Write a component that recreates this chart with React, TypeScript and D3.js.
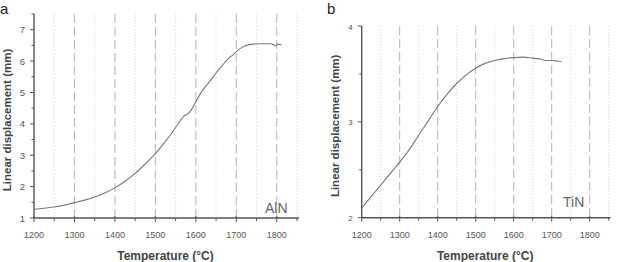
import React from 'react';
import * as d3 from 'd3';

// AlN run: temperature (°C) vs linear displacement (mm)
const alnTemp = [1200, 1225, 1250, 1275, 1300, 1325, 1350, 1375, 1400, 1425, 1450, 1475, 1500, 1520, 1540, 1555, 1565, 1572, 1580, 1588, 1600, 1612, 1622, 1635, 1650, 1665, 1680, 1692, 1700, 1712, 1725, 1740, 1755, 1770, 1785, 1792, 1797, 1803, 1812];
const alnDisp = [1.28, 1.31, 1.35, 1.41, 1.49, 1.57, 1.67, 1.80, 1.96, 2.17, 2.42, 2.72, 3.05, 3.36, 3.70, 3.98, 4.16, 4.26, 4.32, 4.43, 4.70, 4.98, 5.16, 5.36, 5.62, 5.85, 6.08, 6.20, 6.30, 6.42, 6.50, 6.54, 6.55, 6.55, 6.55, 6.53, 6.48, 6.54, 6.51];

// TiN run
const tinTemp = [1200, 1225, 1250, 1275, 1300, 1325, 1350, 1375, 1400, 1425, 1450, 1475, 1500, 1525, 1550, 1575, 1600, 1625, 1650, 1670, 1685, 1700, 1715, 1726];
const tinDisp = [2.1, 2.22, 2.34, 2.46, 2.58, 2.71, 2.86, 3.01, 3.16, 3.29, 3.4, 3.49, 3.56, 3.61, 3.64, 3.66, 3.67, 3.675, 3.665, 3.655, 3.64, 3.64, 3.635, 3.63];

const xMajor = [1200, 1300, 1400, 1500, 1600, 1700, 1800];
const xMinor = [1250, 1350, 1450, 1550, 1650, 1750, 1850];
const aTicks = [1, 2, 3, 4, 5, 6, 7];
const aMinor = [1.5, 2.5, 3.5, 4.5, 5.5, 6.5, 7.5];
const bTicks = [2, 3, 4];
const bMinor = [2.5, 3.5];

const FONT = '"Liberation Sans", Arial, sans-serif';
const AXIS = '#555';

interface PanelProps {
  letter: string;
  name: string;
  temps: number[];
  disp: number[];
  x0: number;
  x1: number;
  yTop: number;
  yBottom: number;
  yDomain: [number, number];
  yTicks: number[];
  yMinor: number[];
  yFont: number;
  letterX: number;
  titleX: number;
  nameX: number;
  nameY: number;
}

const Panel = (p: PanelProps) => {
  const x = d3.scaleLinear().domain([1200, 1855]).range([p.x0, p.x1]);
  const y = d3.scaleLinear().domain(p.yDomain).range([p.yBottom, p.yTop]);
  const pts = p.temps.map((t, i) => [t, p.disp[i]] as [number, number]);
  const line = d3
    .line<[number, number]>()
    .x((d) => x(d[0]))
    .y((d) => y(d[1]))
    .curve(d3.curveMonotoneX);
  const gridTop = y(p.yDomain[1]);
  const base = p.yBottom;

  return (
    <g>
      <text x={p.letterX} y={14} fontFamily={FONT} fontSize={15} fill="#222">{p.letter}</text>
      {xMinor.map((t) => (
        <line key={`mn${t}`} x1={x(t)} x2={x(t)} y1={gridTop} y2={base} stroke="#ccc" strokeWidth={0.8} strokeDasharray="1,2" />
      ))}
      {xMajor.slice(1).map((t) => (
        <line key={`mj${t}`} x1={x(t)} x2={x(t)} y1={gridTop} y2={base} stroke="#aaa" strokeWidth={0.9} strokeDasharray="9,4" />
      ))}
      <path d={line(pts) || ''} fill="none" stroke="#777" strokeWidth={1.1} />
      {/* axes */}
      <line x1={p.x0} x2={p.x0} y1={gridTop} y2={base} stroke={AXIS} strokeWidth={1.4} />
      <line x1={p.x0} x2={p.x1} y1={base} y2={base} stroke={AXIS} strokeWidth={1.4} />
      {xMajor.map((t) => (
        <g key={`xt${t}`}>
          <line x1={x(t)} x2={x(t)} y1={base - 2} y2={base + 4} stroke={AXIS} strokeWidth={1} />
          <text x={x(t)} y={base + 20} textAnchor="middle" fontFamily={FONT} fontSize={9} fill="#555">{t}</text>
        </g>
      ))}
      {xMinor.map((t) => (
        <line key={`xm${t}`} x1={x(t)} x2={x(t)} y1={base} y2={base + 3} stroke={AXIS} strokeWidth={1} />
      ))}
      {p.yTicks.map((v) => (
        <g key={`yt${v}`}>
          <line x1={p.x0 - 4} x2={p.x0} y1={y(v)} y2={y(v)} stroke={AXIS} strokeWidth={1} />
          <text x={p.x0 - 9} y={y(v) + 3.5} textAnchor="end" fontFamily={FONT} fontSize={p.yFont} fill="#555">{v}</text>
        </g>
      ))}
      {p.yMinor.map((v) => (
        <line key={`ym${v}`} x1={p.x0 - 2.5} x2={p.x0} y1={y(v)} y2={y(v)} stroke={AXIS} strokeWidth={1} />
      ))}
      <text x={(p.x0 + x(1850)) / 2} y={260} textAnchor="middle" fontFamily={FONT} fontSize={12} fontWeight="bold" fill="#444">Temperature (°C)</text>
      <text transform={`translate(${p.titleX},${(gridTop + base) / 2 + 4}) rotate(-90)`} textAnchor="middle" fontFamily={FONT} fontSize={11.5} fontWeight="bold" fill="#444">Linear displacement (mm)</text>
      <text x={p.nameX} y={p.nameY} fontFamily={FONT} fontSize={14} fill="#666">{p.name}</text>
    </g>
  );
};

const App = () => (
  <svg width={619} height={262} style={{ position: 'absolute', left: 0, top: 0, background: '#fff' }}>
    <Panel letter="a" name="AlN" temps={alnTemp} disp={alnDisp} x0={34} x1={299} yTop={14} yBottom={218} yDomain={[1, 7.5]} yTicks={aTicks} yMinor={aMinor} yFont={9.5} letterX={0} titleX={11} nameX={265} nameY={213} />
    <Panel letter="b" name="TiN" temps={tinTemp} disp={tinDisp} x0={361.7} x1={610.6} yTop={26} yBottom={217.7} yDomain={[2, 4]} yTicks={bTicks} yMinor={bMinor} yFont={8} letterX={327} titleX={339} nameX={563} nameY={207} />
  </svg>
);

export default App;
